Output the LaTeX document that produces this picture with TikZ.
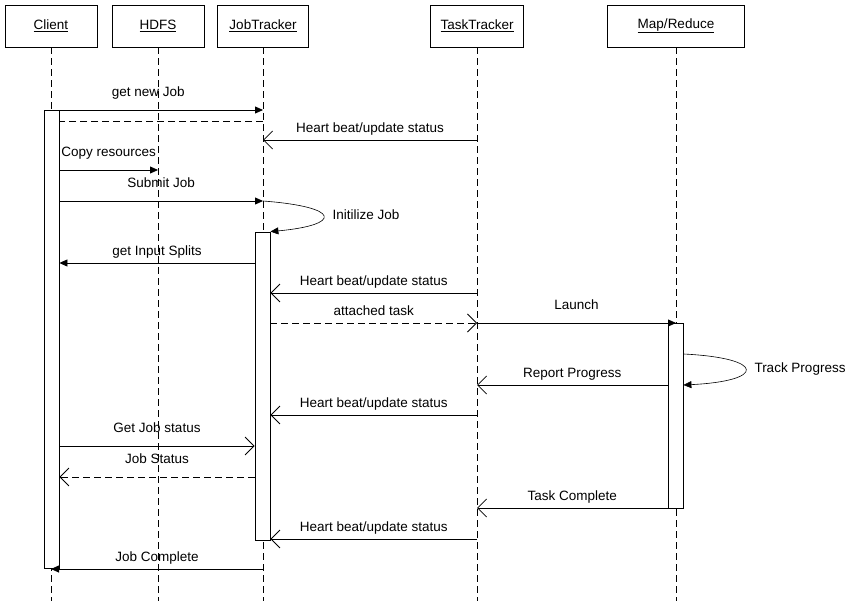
\documentclass[tikz,border=0pt]{standalone}
\usepackage{fontspec}
\setmainfont{Liberation Sans}
\usetikzlibrary{arrows.meta,backgrounds}
\tikzset{
  head/.style={draw, line width=0.8pt, minimum height=42pt, font=\fontsize{13.5}{16}\selectfont},
  life/.style={line width=0.8pt, dash pattern=on 7pt off 4pt},
  act/.style={draw, line width=0.8pt, fill=white, minimum width=15pt, inner sep=0pt},
  call/.style={line width=0.8pt, -{Triangle[length=8pt,width=7pt]}},
  reply/.style={line width=0.8pt, -{Straight Barb[length=9pt,width=18pt]}},
  back/.style={dash pattern=on 7pt off 4pt},
  lbl/.style={font=\fontsize{13.5}{16}\selectfont, text height=10pt, text depth=3pt, inner sep=0pt},
  near/.style={lbl, yshift=11.5pt},
  far/.style={lbl, yshift=17.5pt}
}
% message: style, from, to, row, label style, label
\newcommand{\msg}[6]{\draw[#1] (#2 |- 0,#4) -- node[#5] {#6} (#3 |- 0,#4);}
\begin{document}
\begin{tikzpicture}[x=1pt, y=-1pt]
	\useasboundingbox (0,0) rectangle (850,615);
	% Objects
	\node[head, minimum width=92pt] (client) at (51,26) {\underline{Client}};
	\node[head, minimum width=92pt] (hdfs) at (158,26) {\underline{HDFS}};
	\node[head, minimum width=91pt] (jt) at (263,26) {\underline{JobTracker}};
	\node[head, minimum width=93pt] (tt) at (477,26) {\underline{TaskTracker}};
	\node[head, minimum width=137pt] (mr) at (676,26) {\underline{Map/Reduce}};
	% Lifelines
	\begin{scope}[on background layer]
		\foreach \o in {client,hdfs,jt,tt,mr}
			\draw[life] (\o.south) -- (\o |- 0,601);
	\end{scope}
	% Activations
	\node[act, minimum height=458pt] (cact) at (51.5,339) {};
	\node[act, minimum height=308pt] (jact) at (262.5,386) {};
	\node[act, minimum height=185pt] (mact) at (675.5,415.5) {};
	% Messages
	\msg{call}{cact.east}{jt}{110}{far, xshift=-13pt}{get new Job}
	\msg{back, line width=0.8pt}{jt}{cact.east}{121}{lbl}{}
	\msg{reply}{tt}{jt}{140}{near}{Heart beat/update status}
	\msg{call}{cact.east}{hdfs}{170}{far}{Copy resources}
	\msg{call}{cact.east}{jt}{201}{far}{Submit Job}
	\draw[call, line width=0.6pt] (jt |- 0,201) .. controls (342,207) and (342,225) .. (jact.north east);
	\node[lbl] (init) at (366,216) {Initilize Job};
	\msg{call}{jact.west}{cact.east}{263}{near}{get Input Splits}
	\msg{reply}{tt}{jact.east}{293}{near}{Heart beat/update status}
	\msg{reply, back}{jact.east}{tt}{323}{near}{attached task}
	\msg{call}{tt}{mr}{323}{far}{Launch}
	\draw[call, line width=0.6pt] (mact.east |- 0,354) .. controls (766,358) and (766,381) .. (mact.east |- 0,385);
	\node[lbl] (track) at (800,369) {Track Progress};
	\msg{reply}{mact.west}{tt}{385}{near}{Report Progress}
	\msg{reply}{tt}{jact.east}{415}{near}{Heart beat/update status}
	\msg{reply}{cact.east}{jact.west}{446}{far}{Get Job status}
	\msg{reply, back}{jact.west}{cact.east}{477}{far}{Job Status}
	\msg{reply}{mact.west}{tt}{508}{near}{Task Complete}
	\msg{reply}{tt}{jact.east}{539}{near}{Heart beat/update status}
	\msg{call}{jt}{client}{569}{near}{Job Complete}
\end{tikzpicture}
\end{document}
